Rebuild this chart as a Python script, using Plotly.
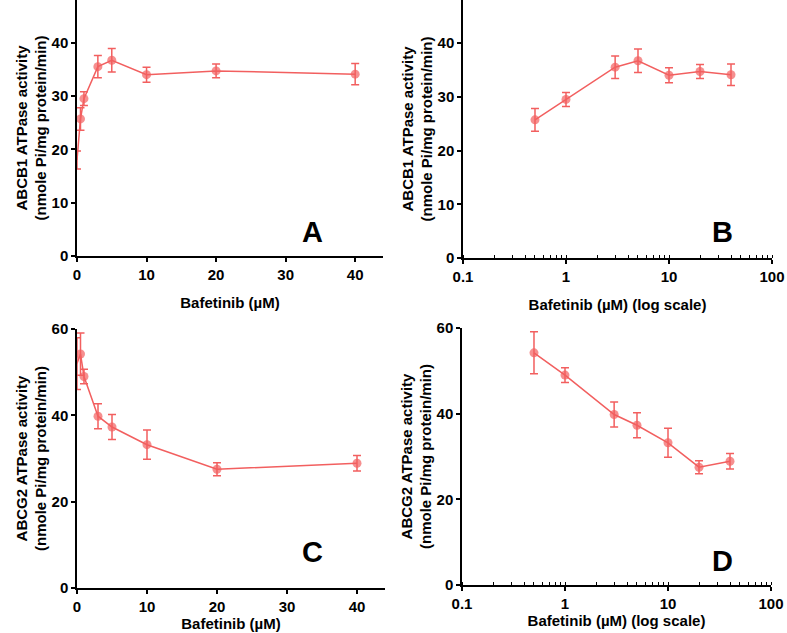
import plotly.graph_objects as go

# ---- data ----
conc_lin = [0, 0.5, 1, 3, 5, 10, 20, 40]
conc_log = [0.5, 1, 3, 5, 10, 20, 40]

abcb1_lin = [18.0, 25.7, 29.5, 35.5, 36.7, 34.0, 34.7, 34.1]
abcb1_err = [1.7, 2.1, 1.3, 2.1, 2.2, 1.4, 1.3, 2.0]

abcg2_lin = [52.0, 54.2, 49.0, 39.8, 37.3, 33.2, 27.5, 28.9]
abcg2_err = [6.0, 4.9, 1.7, 2.9, 2.9, 3.4, 1.5, 1.8]

abcb1_log = abcb1_lin[1:]
abcb1_log_err = abcb1_err[1:]
abcg2_log = abcg2_lin[1:]
abcg2_log_err = abcg2_err[1:]

panel_letters = ["A", "B", "C", "D"]
ytitle_b1 = "ABCB1 ATPase activity<br>(nmole Pi/mg protein/min)"
ytitle_g2 = "ABCG2 ATPase activity<br>(nmole Pi/mg protein/min)"
xtitle_lin = "Bafetinib (µM)"
xtitle_log = "Bafetinib (µM) (log scale)"

RED = "#f25f5f"
FONT = "Liberation Sans, Arial, sans-serif"

fig = go.Figure()

def add_series(x, y, e, xa, ya):
    # point sitting on the y axis is hidden behind the axis in the original
    sizes = [0 if xv == 0 else 9 for xv in x]
    fig.add_trace(go.Scatter(
        x=x, y=y, mode="lines+markers", xaxis=xa, yaxis=ya,
        line=dict(color=RED, width=1.5),
        marker=dict(color=RED, size=sizes, line=dict(width=0)),
        error_y=dict(type="data", array=e, visible=True, color=RED,
                     thickness=1.5, width=4),
        cliponaxis=False, showlegend=False))

add_series(conc_lin, abcb1_lin, abcb1_err, "x", "y")
add_series(conc_log, abcb1_log, abcb1_log_err, "x2", "y2")
add_series(conc_lin, abcg2_lin, abcg2_err, "x3", "y3")
add_series(conc_log, abcg2_log, abcg2_log_err, "x4", "y4")

W, H = 787, 633
def px(v):
    return v / W
def py(v):
    return 1 - v / H

tickfont = dict(family=FONT, size=15, color="black", weight="bold")
titlefont = dict(family=FONT, size=15, color="black", weight="bold")

common_ax = dict(showline=True, linecolor="black", linewidth=1.5,
                 ticks="outside", ticklen=4, tickwidth=1.5, tickcolor="black",
                 showgrid=False, zeroline=False, tickfont=tickfont,
                 title_font=titlefont, automargin=False)

lin_x = dict(common_ax, range=[0, 44], tickvals=[0, 10, 20, 30, 40])
log_x = dict(common_ax, type="log", range=[-1, 2], dtick=1,
             tickvals=[0.1, 1, 10, 100], ticktext=["0.1", "1", "10", "100"],
             minor=dict(ticks="inside", ticklen=3, tickwidth=1,
                        tickcolor="black", dtick="D1", showgrid=False))

fig.update_layout(
    width=W, height=H,
    margin=dict(l=0, r=0, t=0, b=0),
    paper_bgcolor="white", plot_bgcolor="white",
    font=dict(family=FONT, color="black"),
    xaxis=dict(lin_x, domain=[px(77), px(383)], anchor="y",
               title=dict(text=xtitle_lin, standoff=16)),
    yaxis=dict(common_ax, domain=[py(256), py(0)], range=[0, 48],
               tickvals=[0, 10, 20, 30, 40], anchor="x",
               title=dict(text=ytitle_b1, standoff=1)),
    xaxis2=dict(log_x, domain=[px(463), px(772)], anchor="y2",
                title=dict(text=xtitle_log, standoff=16)),
    yaxis2=dict(common_ax, domain=[py(258), py(0)], range=[0, 48],
                tickvals=[0, 10, 20, 30, 40], anchor="x2",
                title=dict(text=ytitle_b1, standoff=1)),
    xaxis3=dict(lin_x, domain=[px(77), px(385)], anchor="y3",
                title=dict(text=xtitle_lin, standoff=2)),
    yaxis3=dict(common_ax, domain=[py(588), py(329)], range=[0, 60],
                tickvals=[0, 20, 40, 60], anchor="x3",
                title=dict(text=ytitle_g2, standoff=1)),
    xaxis4=dict(log_x, domain=[px(462), px(771)], anchor="y4",
                title=dict(text=xtitle_log, standoff=2)),
    yaxis4=dict(common_ax, domain=[py(585), py(328)], range=[0, 60],
                tickvals=[0, 20, 40, 60], anchor="x4",
                title=dict(text=ytitle_g2, standoff=1)),
)

letter_pos = [(312, 232), (722, 232), (312, 552), (722, 561)]
for letter, (lx, ly) in zip(panel_letters, letter_pos):
    fig.add_annotation(x=px(lx), y=py(ly), xref="paper", yref="paper",
                       text=letter, showarrow=False,
                       font=dict(family=FONT, size=29, color="black", weight="bold"),
                       xanchor="center", yanchor="middle")

fig.write_html("out.html",
               config={"displayModeBar": False},
               post_script="document.body.style.margin='0';document.body.style.overflow='hidden';")
